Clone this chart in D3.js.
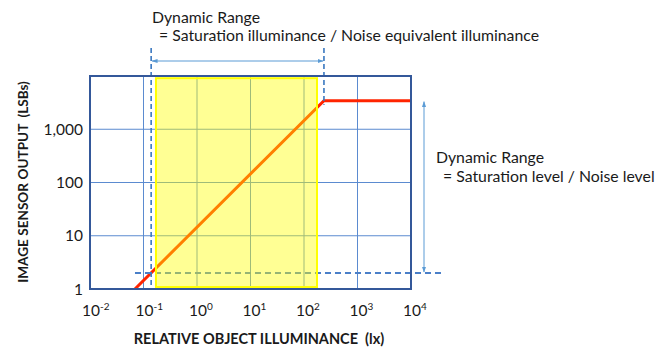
<!DOCTYPE html>
<html>
<head>
<meta charset="utf-8">
<script src="https://cdn.jsdelivr.net/npm/d3@7"></script>
<style>
  html, body { margin: 0; padding: 0; background: #fff; }
  svg { display: block; }
  text { font-family: Lato, "Open Sans", sans-serif; fill: #1a1a1a; white-space: pre; }
</style>
</head>
<body>
<svg id="chart" width="661" height="356"></svg>
<script>
// ---- data ----
const xTickExponents = [-2, -1, 0, 1, 2, 3, 4];
const yTickValues = [1, 10, 100, 1000];
const yTickLabels = ["1", "10", "100", "1,000"];
const responseX = [0.0693, 236, 10000];
const responseY = [1, 3435, 3435];
const noiseLevel = 2;
const noiseIlluminance = 0.139;
const saturationIlluminance = 236;
const saturationLevel = 3435;
const highlightX = [0.171, 175];
const highlightY = [1.09, 9100];
const xTitle = "RELATIVE OBJECT ILLUMINANCE  (lx)";
const yTitle = "IMAGE SENSOR OUTPUT  (LSBs)";
const topNote = ["Dynamic Range", "= Saturation illuminance / Noise equivalent illuminance"];
const rightNote = ["Dynamic Range", "= Saturation level / Noise level"];

// ---- layout ----
const svg = d3.select("#chart");
const L = 90, R = 411, T = 76, B = 289;
const x = d3.scaleLog().domain([0.01, 10000]).range([L, R]);
const y = d3.scaleLog().domain([1, 10000]).range([B, T]);

const defs = svg.append("defs");
defs.append("marker").attr("id", "arr").attr("viewBox", "0 0 10 10")
  .attr("refX", 9).attr("refY", 5).attr("markerWidth", 6).attr("markerHeight", 6)
  .attr("orient", "auto-start-reverse")
  .append("path").attr("d", "M0,1.5 L10,5 L0,8.5 Z").attr("fill", "#5b9bd5");

// grid
const gridColor = "#5b8bd0";
svg.append("g").selectAll("line").data(xTickExponents.slice(1, -1)).join("line")
  .attr("x1", d => x(Math.pow(10, d))).attr("x2", d => x(Math.pow(10, d)))
  .attr("y1", T).attr("y2", B).attr("stroke", gridColor).attr("stroke-width", 1);
svg.append("g").selectAll("line").data(yTickValues.slice(1)).join("line")
  .attr("y1", d => y(d)).attr("y2", d => y(d))
  .attr("x1", L).attr("x2", R).attr("stroke", gridColor).attr("stroke-width", 1);

// response line
const line = d3.line().x(d => x(d[0])).y(d => y(d[1]));
const pts = responseX.map((v, i) => [v, responseY[i]]);
svg.append("path").attr("d", line(pts)).attr("fill", "none")
  .attr("stroke", "#ff2400").attr("stroke-width", 3);

// noise level dashed line
svg.append("line")
  .attr("x1", x(responseX[0])).attr("x2", 445)
  .attr("y1", y(noiseLevel)).attr("y2", y(noiseLevel))
  .attr("stroke", "#4a7fc8").attr("stroke-width", 2).attr("stroke-dasharray", "6,4");

// vertical dashed lines
svg.append("line").attr("x1", x(noiseIlluminance)).attr("x2", x(noiseIlluminance))
  .attr("y1", 48).attr("y2", B).attr("stroke", "#3a78c0").attr("stroke-width", 1.6)
  .attr("stroke-dasharray", "5,3");
svg.append("line").attr("x1", x(saturationIlluminance)).attr("x2", x(saturationIlluminance))
  .attr("y1", 48).attr("y2", y(saturationLevel) + 4).attr("stroke", "#3a78c0").attr("stroke-width", 1.6)
  .attr("stroke-dasharray", "5,3");

// highlight box (semi-transparent yellow over everything)
svg.append("rect")
  .attr("x", x(highlightX[0])).attr("y", y(highlightY[1]))
  .attr("width", x(highlightX[1]) - x(highlightX[0]))
  .attr("height", y(highlightY[0]) - y(highlightY[1]))
  .attr("fill", "#ffff00").attr("fill-opacity", 0.42)
  .attr("stroke", "#ffff00").attr("stroke-width", 2);

// frame
svg.append("rect").attr("x", L).attr("y", T).attr("width", R - L).attr("height", B - T)
  .attr("fill", "none").attr("stroke", "#34589a").attr("stroke-width", 2);

// double arrows
svg.append("line").attr("x1", x(noiseIlluminance) + 1).attr("x2", x(saturationIlluminance) - 1)
  .attr("y1", 61).attr("y2", 61).attr("stroke", "#5b9bd5").attr("stroke-width", 1)
  .attr("marker-start", "url(#arr)").attr("marker-end", "url(#arr)");
svg.append("line").attr("x1", 424).attr("x2", 424)
  .attr("y1", y(saturationLevel) + 1).attr("y2", y(noiseLevel) - 1)
  .attr("stroke", "#5b9bd5").attr("stroke-width", 1)
  .attr("marker-start", "url(#arr)").attr("marker-end", "url(#arr)");

// x tick labels
const xl = svg.append("g").selectAll("text").data(xTickExponents).join("text")
  .attr("x", d => x(Math.pow(10, d)) - 8).attr("y", 316)
  .attr("font-size", 15.5).attr("fill", "#262626");
xl.append("tspan").text("10");
xl.append("tspan").attr("font-size", 10).attr("dy", -6).text(d => d < 0 ? "-" + (-d) : String(d));

// y tick labels
svg.append("g").selectAll("text").data(yTickValues).join("text")
  .attr("x", 83).attr("y", d => y(d) + 5.5).attr("text-anchor", "end")
  .attr("font-size", 15.5).attr("fill", "#262626").text((d, i) => yTickLabels[i]);

// axis titles
svg.append("text").attr("x", 259).attr("y", 344).attr("text-anchor", "middle")
  .attr("font-size", 14.5).attr("font-weight", "bold").text(xTitle);
svg.append("text").attr("transform", "translate(28,182) rotate(-90)")
  .attr("text-anchor", "middle").attr("font-size", 13.6).attr("font-weight", "bold").text(yTitle);

// notes
svg.append("text").attr("x", 152).attr("y", 23).attr("font-size", 15.8).text(topNote[0]);
svg.append("text").attr("x", 159).attr("y", 41).attr("font-size", 15.8).text(topNote[1]);
svg.append("text").attr("x", 436).attr("y", 163).attr("font-size", 15.8).text(rightNote[0]);
svg.append("text").attr("x", 443).attr("y", 182).attr("font-size", 15.8).text(rightNote[1]);
</script>
</body>
</html>
